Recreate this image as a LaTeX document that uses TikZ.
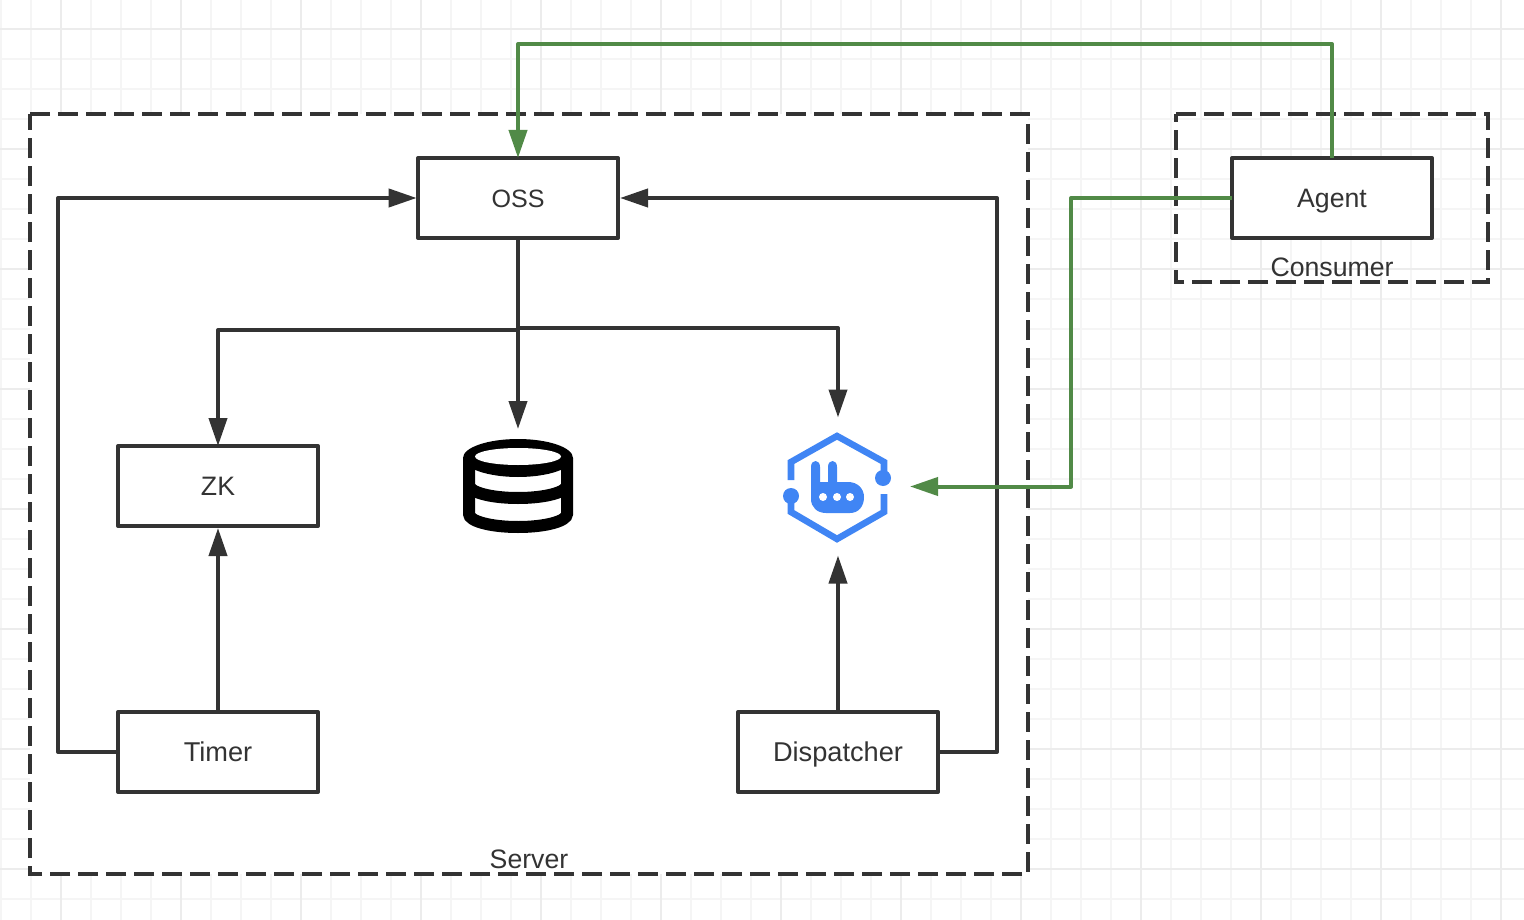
\documentclass[tikz,border=0pt]{standalone}
\usepackage{fontspec}
\setmainfont{Liberation Sans}
\usetikzlibrary{arrows.meta}
\definecolor{ink}{HTML}{333333}
\definecolor{flow}{HTML}{518A47}
\definecolor{mqblue}{HTML}{4085F4}
\definecolor{gridminor}{HTML}{F5F5F5}
\definecolor{gridmajor}{HTML}{ECECEC}
\tikzset{
  x=0.75pt,y=-0.75pt,
  box/.style={draw=ink,fill=white,line width=3pt,line join=round,rectangle,outer sep=0pt,inner sep=0pt,
    minimum width=150pt,minimum height=60pt,text=ink,text height=16.7pt,text depth=1.8pt,
    font=\fontsize{20}{24}\selectfont},
  group/.style={rectangle,outer sep=0pt,inner sep=0pt},
  grouptext/.style={text=ink,font=\fontsize{20}{24}\selectfont,inner sep=0pt},
  groupline/.style={draw=ink,line width=2.8pt,dash pattern=on 15pt off 6pt},
  icon/.style={rectangle,outer sep=0pt,inner sep=0pt},
  conn/.style={draw=ink,line width=3pt,line join=round,-{Triangle[length=21pt,width=13.5pt]}},
  greenconn/.style={draw=flow,line width=3pt,line join=round,-{Triangle[length=21pt,width=13.5pt]}},
}
\begin{document}
\begin{tikzpicture}
\useasboundingbox (0,0) rectangle (1524,920);
\fill[white] (0,0) rectangle (1524,920);
% grid
\foreach \gx in {1,31,...,1501} \draw[gridminor,line width=1.1pt] (\gx,0) -- (\gx,920);
\foreach \gy in {29,59,...,899} \draw[gridminor,line width=1.1pt] (0,\gy) -- (1524,\gy);
\foreach \gx in {61,181,...,1501} \draw[gridmajor,line width=1.4pt] (\gx,0) -- (\gx,920);
\foreach \gy in {29,149,...,869} \draw[gridmajor,line width=1.4pt] (0,\gy) -- (1524,\gy);
% groups
\node[group,fill=white,minimum width=748.5pt,minimum height=570pt] (server) at (529,494) {};
\node[group,minimum width=234pt,minimum height=126pt] (consumer) at (1332,198) {};
\draw[groupline] (server.north west) -- (server.north east) -- (server.south east) -- (server.south west) -- cycle;
\draw[groupline] (consumer.north west) -- (consumer.north east) -- (consumer.south east) -- (consumer.south west) -- cycle;
\node[grouptext] (serverlabel) at (529,859) {Server};
\node[grouptext] (consumerlabel) at (1332,267) {Consumer};
% boxes
\node[box,font=\fontsize{18.8}{24}\selectfont] (oss) at (518,198) {OSS};
\node[box] (zk) at (218,486) {ZK};
\node[box,font=\fontsize{20.4}{24}\selectfont] (timer) at (218,752) {Timer};
\node[box,font=\fontsize{20.4}{24}\selectfont] (dispatcher) at (838,752) {Dispatcher};
\node[box] (agent) at (1332,198) {Agent};
% icon anchors
\node[icon,minimum width=90pt,minimum height=90pt] (db) at (518,489) {};
\node[icon,minimum width=108pt,minimum height=103.5pt] (mq) at (838,486.5) {};
% database icon
\begin{scope}[line width=9pt,draw=black]
\draw (469,458) -- (469,514) .. controls (469,521) and (490,527) .. (518,527) .. controls (546,527) and (567,521) .. (567,514) -- (567,458);
\draw (469,485) .. controls (469,492) and (490,498) .. (518,498) .. controls (546,498) and (567,492) .. (567,485);
\fill[black] (518,458) ellipse [x radius=55,y radius=19];
\fill[white] (518,456.5) ellipse [x radius=43,y radius=8.5];
\end{scope}
% rabbit icon
\begin{scope}[mqblue]
\draw[line width=4.9pt,line join=miter] (791,480) -- (791,462) -- (837,436) -- (884,462) -- (884,478);
\draw[line width=4.9pt,line join=miter] (791,496) -- (791,512) -- (837,539) -- (884,512) -- (884,494);
\fill (791,496) circle [radius=8];
\fill (883,478) circle [radius=8];
\fill (811,467) .. controls (811,459) and (820,459) .. (820,467) -- (820,482) -- (828,482) -- (828,467)
  .. controls (828,459) and (837,459) .. (837,467) -- (837,482) -- (848,482)
  .. controls (858,482) and (864,489) .. (864,497) .. controls (864,507) and (858,513) .. (850,513)
  -- (826,513) .. controls (817,513) and (811,507) .. (811,499) -- cycle;
\fill[white] (823,497) circle [radius=4];
\fill[white] (837,497) circle [radius=4];
\fill[white] (850,497) circle [radius=4];
\end{scope}
% connectors
\draw[conn] (oss.south) -- (db.north);
\draw[conn] (oss.south) -- ++(0,92) -| (zk.north);
\draw[conn] (oss.south) -- ++(0,90) -| (mq.north);
\draw[conn,shorten >=1.5pt] (timer.north) -- (zk.south);
\draw[conn] (dispatcher.north) -- (mq.south);
\draw[conn,shorten >=1pt] (timer.west) -- ++(-60,0) |- (oss.west);
\draw[conn,shorten >=1.5pt] (dispatcher.east) -- ++(59,0) |- (oss.east);
\draw[greenconn] (agent.north) -- ++(0,-114) -| (oss.north);
\draw[greenconn] (agent.west) -- ++(-161,0) |- (mq.east);
\end{tikzpicture}
\end{document}
